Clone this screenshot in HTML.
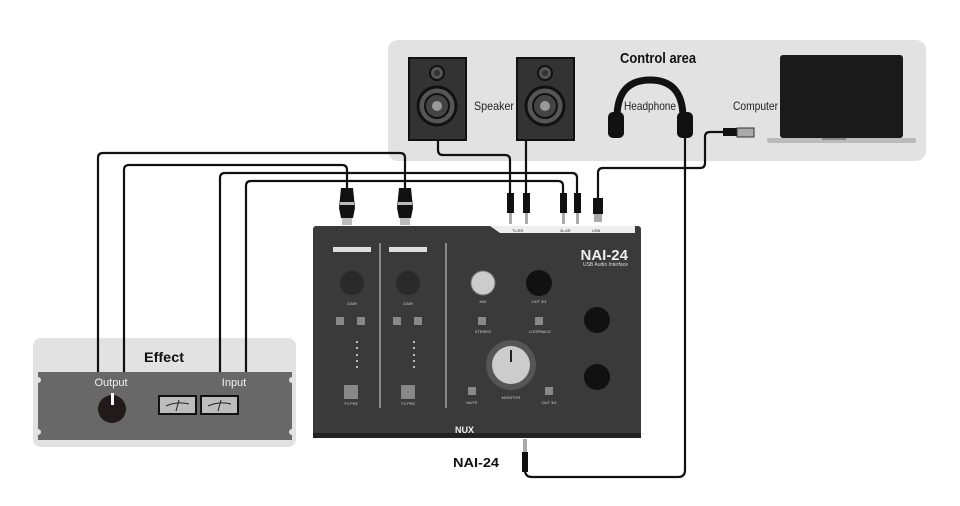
<!DOCTYPE html>
<html><head><meta charset="utf-8"><style>
html,body{margin:0;padding:0;background:#fff;}
svg{display:block;font-family:"Liberation Sans",sans-serif;}
</style></head><body>
<svg width="960" height="506" viewBox="0 0 960 506" xmlns="http://www.w3.org/2000/svg">
<rect x="388" y="40" width="538" height="121" rx="10" fill="#e2e2e2"/>
<text x="658" y="63" font-size="15" font-weight="bold" text-anchor="middle" textLength="76" lengthAdjust="spacingAndGlyphs" fill="#111">Control area</text>
<g>
<rect x="409" y="58" width="57" height="82" fill="#333" stroke="#111" stroke-width="2"/>
<circle cx="437" cy="73" r="7" fill="#555" stroke="#111" stroke-width="2"/><circle cx="437" cy="73" r="3" fill="#333"/>
<circle cx="437" cy="106" r="19" fill="#555" stroke="#111" stroke-width="3"/><circle cx="437" cy="106" r="12" fill="#444" stroke="#111" stroke-width="2"/><circle cx="437" cy="106" r="5" fill="#999"/>
</g>
<g>
<rect x="517" y="58" width="57" height="82" fill="#333" stroke="#111" stroke-width="2"/>
<circle cx="545" cy="73" r="7" fill="#555" stroke="#111" stroke-width="2"/><circle cx="545" cy="73" r="3" fill="#333"/>
<circle cx="545" cy="106" r="19" fill="#555" stroke="#111" stroke-width="3"/><circle cx="545" cy="106" r="12" fill="#444" stroke="#111" stroke-width="2"/><circle cx="545" cy="106" r="5" fill="#999"/>
</g>
<text x="474" y="110" font-size="12" fill="#222" textLength="40" lengthAdjust="spacingAndGlyphs">Speaker</text>
<path d="M617 118 Q617 80 650 80 Q683 80 683 118" fill="none" stroke="#111" stroke-width="7"/>
<rect x="608" y="112" width="16" height="26" rx="5" fill="#111"/>
<rect x="677" y="112" width="16" height="26" rx="5" fill="#111"/>
<text x="650" y="110" font-size="12" text-anchor="middle" fill="#222" textLength="52" lengthAdjust="spacingAndGlyphs">Headphone</text>
<text x="733" y="110" font-size="12" fill="#222" textLength="45" lengthAdjust="spacingAndGlyphs">Computer</text>
<rect x="780" y="55" width="123" height="83" rx="3" fill="#1a1a1a"/>
<rect x="767" y="138" width="149" height="5" rx="2" fill="#bbb"/>
<rect x="822" y="138" width="24" height="2" fill="#888"/>
<rect x="723" y="128" width="14" height="8" fill="#111"/>
<rect x="737" y="128" width="17" height="9" fill="#aaa" stroke="#333"/>
<g fill="none" stroke="#111" stroke-width="2.2">
<path d="M98 372 V158 Q98 153 103 153 H400 Q405 153 405 158 V190"/>
<path d="M124 372 V170 Q124 165 129 165 H342 Q347 165 347 170 V190"/>
<path d="M220 372 V178 Q220 173 225 173 H572 Q577 173 577 178 V195"/>
<path d="M246 372 V186 Q246 181 251 181 H558 Q563 181 563 186 V195"/>
<path d="M438 140 V150 Q438 155 443 155 H505 Q510 155 510 160 V195"/>
<path d="M526 140 V195"/>
<path d="M723 132 H710 Q705 132 705 137 V163 Q705 168 700 168 H603 Q598 168 598 173 V200"/>
<path d="M685 136 V470 Q685 477 678 477 H532 Q525 477 525 470 V465"/>
</g>
<g fill="#111"><path d="M341 188 h12 l2 20 l-2 10 h-12 l-2 -10 z"/><path d="M399 188 h12 l2 20 l-2 10 h-12 l-2 -10 z"/></g>
<g fill="#bbb"><rect x="340" y="202" width="14" height="3"/><rect x="398" y="202" width="14" height="3"/><rect x="342" y="218" width="10" height="7"/><rect x="400" y="218" width="10" height="7"/></g>
<g fill="#111"><rect x="507" y="193" width="7" height="20"/><rect x="523" y="193" width="7" height="20"/><rect x="560" y="193" width="7" height="20"/><rect x="574" y="193" width="7" height="20"/><rect x="593" y="198" width="10" height="16"/><rect x="522" y="452" width="6" height="20"/></g>
<g fill="#aaa"><rect x="509" y="213" width="3" height="11"/><rect x="525" y="213" width="3" height="11"/><rect x="562" y="213" width="3" height="11"/><rect x="576" y="213" width="3" height="11"/><rect x="594" y="214" width="8" height="8"/><rect x="523" y="439" width="4" height="13"/></g>
<rect x="313" y="226" width="328" height="212" rx="3" fill="#3a3a3a"/>
<rect x="313" y="433" width="328" height="5" fill="#222"/>
<path d="M490 226 H635 V233 H500 Z" fill="#eee"/>
<g font-size="4" fill="#333"><text x="512" y="232">TL/SR</text><text x="560" y="232">3L/4R</text><text x="592" y="232">USB</text></g>
<text x="628" y="260" font-size="15" font-weight="bold" fill="#eee" text-anchor="end">NAI-24</text>
<text x="628" y="266" font-size="5" fill="#ddd" text-anchor="end">USB Audio Interface</text>
<g fill="#888"><rect x="379" y="243" width="2" height="165"/><rect x="445" y="243" width="2" height="165"/></g>
<rect x="333" y="247" width="38" height="5" fill="#ddd"/><rect x="389" y="247" width="38" height="5" fill="#ddd"/>
<circle cx="352" cy="283" r="12" fill="#2a2a2a"/><circle cx="408" cy="283" r="12" fill="#2a2a2a"/>
<circle cx="483" cy="283" r="12" fill="#ccc" stroke="#777"/>
<circle cx="539" cy="283" r="13" fill="#111"/>
<circle cx="597" cy="320" r="13" fill="#111"/><circle cx="597" cy="377" r="13" fill="#111"/>
<circle cx="511" cy="365" r="25" fill="#555"/><circle cx="511" cy="365" r="19" fill="#ccc"/><rect x="510" y="350" width="2" height="12" fill="#222"/>
<g fill="#888"><rect x="336" y="317" width="8" height="8"/><rect x="357" y="317" width="8" height="8"/><rect x="393" y="317" width="8" height="8"/><rect x="414" y="317" width="8" height="8"/><rect x="478" y="317" width="8" height="8"/><rect x="535" y="317" width="8" height="8"/><rect x="344" y="385" width="14" height="14"/><rect x="401" y="385" width="14" height="14"/><rect x="468" y="387" width="8" height="8"/><rect x="545" y="387" width="8" height="8"/></g>
<g fill="#bbb"><rect x="356" y="341" width="2" height="2"/><rect x="356" y="347" width="2" height="2"/><rect x="356" y="354" width="2" height="2"/><rect x="356" y="360" width="2" height="2"/><rect x="356" y="366" width="2" height="2"/><rect x="413" y="341" width="2" height="2"/><rect x="413" y="347" width="2" height="2"/><rect x="413" y="354" width="2" height="2"/><rect x="413" y="360" width="2" height="2"/><rect x="413" y="366" width="2" height="2"/></g>
<g font-size="4" fill="#ccc" text-anchor="middle"><text x="352" y="305">GAIN</text><text x="408" y="305">GAIN</text><text x="483" y="303">MIX</text><text x="539" y="303">OUT 3/4</text><text x="483" y="333">STEREO</text><text x="540" y="333">LOOPBACK</text><text x="511" y="399">MONITOR</text><text x="472" y="404">MUTE</text><text x="549" y="404">OUT 3/4</text><text x="351" y="405">TS PRE</text><text x="408" y="405">TS PRE</text></g>
<text x="455" y="433" font-size="9" font-weight="bold" fill="#eee">NUX</text>
<rect x="33" y="338" width="263" height="109" rx="8" fill="#e2e2e2"/>
<text x="164" y="362" font-size="14" font-weight="bold" text-anchor="middle" textLength="40" lengthAdjust="spacingAndGlyphs" fill="#111">Effect</text>
<rect x="38" y="372" width="254" height="68" fill="#686868"/>
<g fill="#e2e2e2"><circle cx="38" cy="380" r="3"/><circle cx="38" cy="432" r="3"/><circle cx="292" cy="380" r="3"/><circle cx="292" cy="432" r="3"/></g>
<g fill="none" stroke="#111" stroke-width="2.2"><path d="M98 338V372M124 338V372M220 338V372M246 338V372"/></g>
<text x="111" y="386" font-size="11" text-anchor="middle" fill="#f2f2f2">Output</text>
<text x="234" y="386" font-size="11" text-anchor="middle" fill="#f2f2f2">Input</text>
<circle cx="112" cy="409" r="14" fill="#221a1a"/><rect x="111" y="393" width="3" height="12" fill="#fff"/>
<rect x="159" y="396" width="37" height="18" fill="#bdbdbd" stroke="#111" stroke-width="2"/>
<rect x="201" y="396" width="37" height="18" fill="#bdbdbd" stroke="#111" stroke-width="2"/>
<path d="M166 406 Q177 401 189 404 M179 400 L176 411 M208 406 Q219 401 231 404 M221 400 L218 411" stroke="#222" fill="none"/>
<text x="476" y="467" font-size="13" font-weight="bold" text-anchor="middle" textLength="46" lengthAdjust="spacingAndGlyphs" fill="#111">NAI-24</text>
</svg>
</body></html>
